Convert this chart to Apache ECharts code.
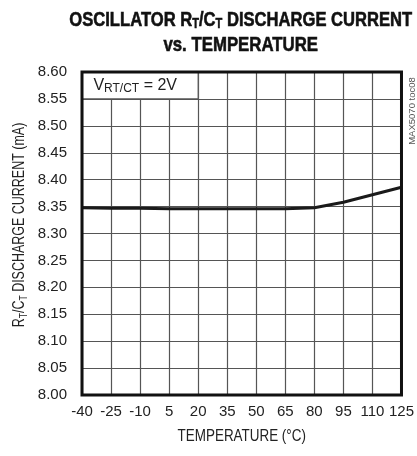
<!DOCTYPE html>
<html><head><meta charset="utf-8">
<script src="https://cdn.jsdelivr.net/npm/echarts@6/dist/echarts.min.js"></script>
<style>html,body{margin:0;padding:0;background:#fff}#c{width:417px;height:456px}</style>
</head><body><div id="c"></div>
<script>
// ---- data ----
const temperatures = ['-40','-25','-10','5','20','35','50','65','80','95','110','125'];
const dischargeCurrent = [8.348, 8.347, 8.347, 8.346, 8.346, 8.346, 8.346, 8.346, 8.348, 8.358, 8.372, 8.386];
const yMin = 8.00, yMax = 8.60, yStep = 0.05;
const noteRange = { x0: '-40', x1: '20', y0: 8.55, y1: 8.60 };

const FONT = "'Liberation Sans',Arial,sans-serif";
const chart = echarts.init(document.getElementById('c'), null, { renderer: 'canvas' });

chart.setOption({
  animation: false,
  backgroundColor: '#fff',
  grid: { left: 82, right: 9, top: 72, bottom: 61, containLabel: false },
  xAxis: {
    type: 'category', data: temperatures, boundaryGap: false,
    axisLine: { show: false }, axisTick: { show: false },
    axisLabel: { color: '#222', fontFamily: FONT, fontSize: 15, margin: 9, interval: 0 },
    splitLine: { show: true, interval: 0, lineStyle: { color: '#555', width: 1.2 } }
  },
  yAxis: {
    type: 'value', min: yMin, max: yMax, interval: yStep,
    axisLine: { show: false }, axisTick: { show: false },
    axisLabel: { color: '#222', fontFamily: FONT, fontSize: 15, margin: 15,
      formatter: v => v.toFixed(2) },
    splitLine: { show: true, lineStyle: { color: '#555', width: 1.2 } }
  },
  series: [{
    type: 'line', data: dischargeCurrent, symbol: 'none', smooth: false,
    lineStyle: { color: '#1a1a1a', width: 3 },
    markArea: {
      silent: true,
      itemStyle: { color: '#fff', borderColor: '#555', borderWidth: 1.2 },
      label: {
        show: true, position: 'insideLeft', offset: [7, 0],
        formatter: 'V{s|RT/CT} = 2V', color: '#222', fontFamily: FONT, fontSize: 16,
        rich: { s: { fontFamily: FONT, fontSize: 12, color: '#222', padding: [6,0,0,0] } }
      },
      data: [[{ xAxis: noteRange.x0, yAxis: noteRange.y1 }, { xAxis: noteRange.x1, yAxis: noteRange.y0 }]]
    }
  }]
});

const p0 = chart.convertToPixel({ gridIndex: 0 }, [temperatures[0], yMax]);
const p1 = chart.convertToPixel({ gridIndex: 0 }, [temperatures[temperatures.length - 1], yMin]);
const cx = (p0[0] + p1[0]) / 2;

chart.setOption({
  graphic: [
    { type: 'rect', z: 100, silent: true,
      shape: { x: p0[0], y: p0[1], width: p1[0] - p0[0], height: p1[1] - p0[1] },
      style: { fill: null, stroke: '#111', lineWidth: 3 } },
    { type: 'text', z: 100, x: cx - 1, y: 20, scaleX: 0.79,
      style: { text: 'OSCILLATOR R{s|T}/C{s|T} DISCHARGE CURRENT', fill: '#111', stroke: '#111', lineWidth: 0.6,
        font: "bold 21px 'Liberation Sans',Arial,sans-serif", align: 'center', verticalAlign: 'middle',
        rich: { s: { font: "bold 14px 'Liberation Sans',Arial,sans-serif", fill: '#111', stroke: '#111', lineWidth: 0.5, padding: [8,0,0,0] } } } },
    { type: 'text', z: 100, x: cx - 1, y: 45, scaleX: 0.8,
      style: { text: 'vs. TEMPERATURE', fill: '#111', stroke: '#111', lineWidth: 0.6,
        font: "bold 21px 'Liberation Sans',Arial,sans-serif", align: 'center', verticalAlign: 'middle' } },
    { type: 'text', z: 100, x: 20, y: 225, rotation: Math.PI / 2, scaleX: 0.78,
      style: { text: 'R{s|T}/C{s|T} DISCHARGE CURRENT (mA)', fill: '#222',
        font: "16px 'Liberation Sans',Arial,sans-serif", align: 'center', verticalAlign: 'middle',
        rich: { s: { font: "11px 'Liberation Sans',Arial,sans-serif", fill: '#222', padding: [8,0,0,0] } } } },
    { type: 'text', z: 100, x: cx, y: 437, scaleX: 0.84,
      style: { text: 'TEMPERATURE (°C)', fill: '#222',
        font: "16px 'Liberation Sans',Arial,sans-serif", align: 'center', verticalAlign: 'middle' } },
    { type: 'text', z: 100, x: 412, y: 111, rotation: Math.PI / 2,
      style: { text: 'MAX5070 toc08', fill: '#555', font: "9.5px 'Liberation Sans',Arial,sans-serif",
        align: 'center', verticalAlign: 'middle' } }
  ]
});
</script></body></html>
